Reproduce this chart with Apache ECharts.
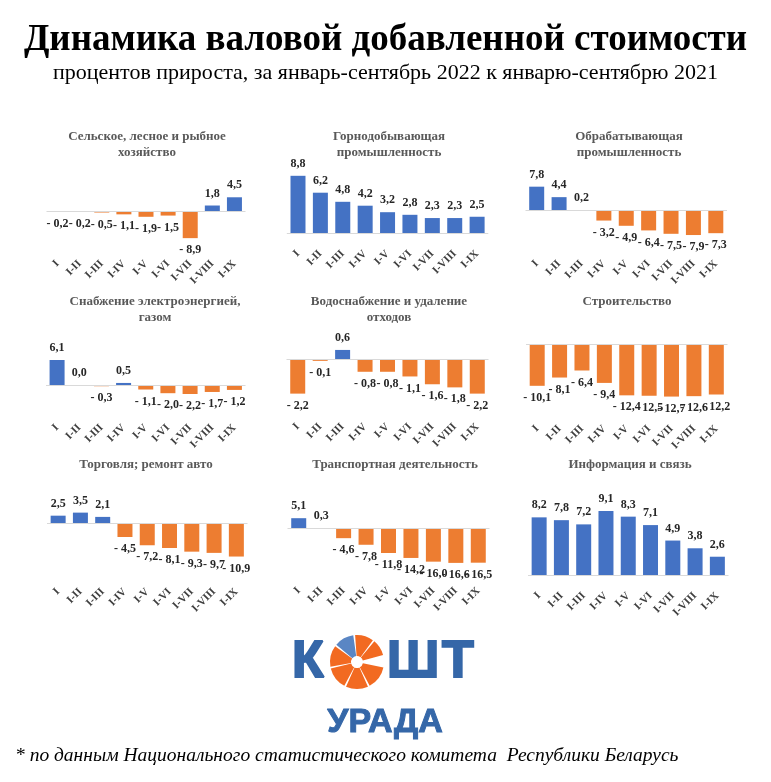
<!DOCTYPE html>
<html><head><meta charset="utf-8">
<script src="https://cdn.jsdelivr.net/npm/echarts@6/dist/echarts.min.js"></script>
<style>html,body{margin:0;padding:0;background:#fff}#c{width:771px;height:782px}</style>
</head><body><div id="c"></div>
<script>
// ---- data ----
const categories = ['I','I-II','I-III','I-IV','I-V','I-VI','I-VII','I-VIII','I-IX'];
const panelTitles = [
  'Сельское, лесное и рыбное\nхозяйство',
  'Горнодобывающая\nпромышленность',
  'Обрабатывающая\nпромышленность',
  'Снабжение электроэнергией,\nгазом',
  'Водоснабжение и удаление\nотходов',
  'Строительство',
  'Торговля; ремонт авто',
  'Транспортная деятельность',
  'Информация и связь'
];
const agriculture   = [-0.2, -0.2, -0.5, -1.1, -1.9, -1.5, -8.9, 1.8, 4.5];
const mining        = [8.8, 6.2, 4.8, 4.2, 3.2, 2.8, 2.3, 2.3, 2.5];
const manufacturing = [7.8, 4.4, 0.2, -3.2, -4.9, -6.4, -7.5, -7.9, -7.3];
const energy        = [6.1, 0.0, -0.3, 0.5, -1.1, -2.0, -2.2, -1.7, -1.2];
const water         = [-2.2, -0.1, 0.6, -0.8, -0.8, -1.1, -1.6, -1.8, -2.2];
const construction  = [-10.1, -8.1, -6.4, -9.4, -12.4, -12.5, -12.7, -12.6, -12.2];
const trade         = [2.5, 3.5, 2.1, -4.5, -7.2, -8.1, -9.3, -9.7, -10.9];
const transport     = [5.1, 0.3, -4.6, -7.8, -11.8, -14.2, -16.0, -16.6, -16.5];
const ict           = [8.2, 7.8, 7.2, 9.1, 8.3, 7.1, 4.9, 3.8, 2.6];
const panelValues = [agriculture, mining, manufacturing, energy, water, construction, trade, transport, ict];

const mainTitle = 'Динамика валовой добавленной стоимости';
const subTitle = 'процентов прироста, за январь-сентябрь 2022 к январю-сентябрю 2021';
const footnote = '* по данным Национального статистического комитета  Республики Беларусь';

// ---- layout (pixels) ----
const layout = [
  {left:46.5, width:199,   top:160, bottom:257, zeroY:211,   ppu:3.05, tx:147, ty:129},
  {left:286.8,width:201.5, top:160, bottom:247, zeroY:233,   ppu:6.5,  tx:389, ty:129},
  {left:525.5,width:201.5, top:160, bottom:257, zeroY:210.7, ppu:3.08, tx:629, ty:129},
  {left:46,   width:199.5, top:325, bottom:421, zeroY:385,   ppu:4.1,  tx:155, ty:294},
  {left:286.5,width:202,   top:325, bottom:420, zeroY:359.3, ppu:15.6, tx:389, ty:294},
  {left:526,  width:201.5, top:325, bottom:422, zeroY:344,   ppu:4.14, tx:627, ty:294},
  {left:47,   width:200.5, top:485, bottom:585, zeroY:523.3, ppu:3.05, tx:146, ty:457},
  {left:287.5,width:202,   top:485, bottom:584, zeroY:528.7, ppu:2.06, tx:395, ty:457},
  {left:528,  width:200.5, top:485, bottom:589, zeroY:575,   ppu:7.03, tx:630, ty:457}
];

const BLUE = '#4472C4', ORANGE = '#ED7D31';
const SERIF = '"Liberation Serif", "Times New Roman", serif';
const fmt = v => (v < 0 ? '- ' : '') + Math.abs(v).toFixed(1).replace('.', ',');

const chart = echarts.init(document.getElementById('c'), null, {renderer:'canvas'});
const grid = [], xAxis = [], yAxis = [], series = [];
const title = [
  {text: mainTitle, left:'center', top:22, padding:0,
   textStyle:{fontFamily:SERIF, fontWeight:'bold', fontSize:37, color:'#000'}},
  {text: subTitle, left:'center', top:62, padding:0,
   textStyle:{fontFamily:SERIF, fontWeight:'normal', fontSize:22, color:'#000'}}
];

panelValues.forEach((vals, i) => {
  const L = layout[i];
  grid.push({left:L.left, top:L.top, width:L.width, height:L.bottom - L.top, containLabel:false});
  xAxis.push({
    type:'category', gridIndex:i, data: categories,
    position:'bottom', axisLine:{show:false, onZero:false}, axisTick:{show:false},
    splitLine:{show:false},
    axisLabel:{rotate:45, interval:0, margin:5, fontFamily:SERIF, fontWeight:'bold',
               fontSize:11, color:'#404040'}
  });
  yAxis.push({type:'value', gridIndex:i, show:false,
    min: -(L.bottom - L.zeroY) / L.ppu, max: (L.zeroY - L.top) / L.ppu});
  title.push({text: panelTitles[i], left: L.tx, top: L.ty, textAlign:'center', padding:0,
    textStyle:{fontFamily:SERIF, fontWeight:'bold', fontSize:13, lineHeight:16, color:'#595959'}});
  series.push({
    type:'bar', xAxisIndex:i, yAxisIndex:i, barWidth:15,
    data: vals.map(v => ({
      value: v,
      itemStyle:{color: v >= 0 ? BLUE : ORANGE},
      label:{position: v < 0 ? 'bottom' : 'top'}
    })),
    label:{show:true, formatter: p => fmt(p.value), fontFamily:SERIF, fontWeight:'bold',
           fontSize:12, color:'#262626', distance:6},
    markLine:{silent:true, symbol:'none', animation:false, label:{show:false},
      lineStyle:{color:'#d9d9d9', type:'solid', width:1}, data:[{yAxis:0}]},
    animation:false
  });
});

// ---- logo ----
const LOGO_BLUE = '#3567a8', LOGO_ORANGE = '#f26a21';
const cx = 357, cy = 662, r0 = 6, r1 = 27;
const wedges = [
  [12, 62, LOGO_ORANGE], [66, 114, LOGO_ORANGE], [118, 166, LOGO_ORANGE],
  [170, 216, LOGO_ORANGE], [220, 262, '#5a86c4'], [266, 306, LOGO_ORANGE], [310, 345, LOGO_ORANGE]
];
const d2r = d => d * Math.PI / 180;
const graphic = wedges.map(w => ({
  type:'sector', silent:true,
  shape:{cx, cy, r0, r: r1, startAngle: d2r(w[0]), endAngle: d2r(w[1]), clockwise:true},
  style:{fill: w[2]}
}));
const logoFont = 'bold 52px "Liberation Sans", Arial, sans-serif';
[['К', 292], ['Ш', 387], ['Т', 442]].forEach(([t, x]) => graphic.push({
  type:'text', silent:true,
  style:{text:t, x, y:663, font:logoFont, fill:LOGO_BLUE, stroke:LOGO_BLUE, lineWidth:2, textVerticalAlign:'middle'}
}));
graphic.push({type:'text', silent:true, style:{text:'УРАДА', x:385, y:723, font:'bold 34px "Liberation Sans", Arial, sans-serif',
  fill:LOGO_BLUE, stroke:LOGO_BLUE, lineWidth:1, textAlign:'center', textVerticalAlign:'middle'}});
graphic.push({type:'text', silent:true, style:{text: footnote, x:15, y:756,
  font:'italic 19.5px "Liberation Serif", "Times New Roman", serif', fill:'#000', textVerticalAlign:'middle'}});

chart.setOption({animation:false, backgroundColor:'#fff', title, grid, xAxis, yAxis, series, graphic});
</script></body></html>
